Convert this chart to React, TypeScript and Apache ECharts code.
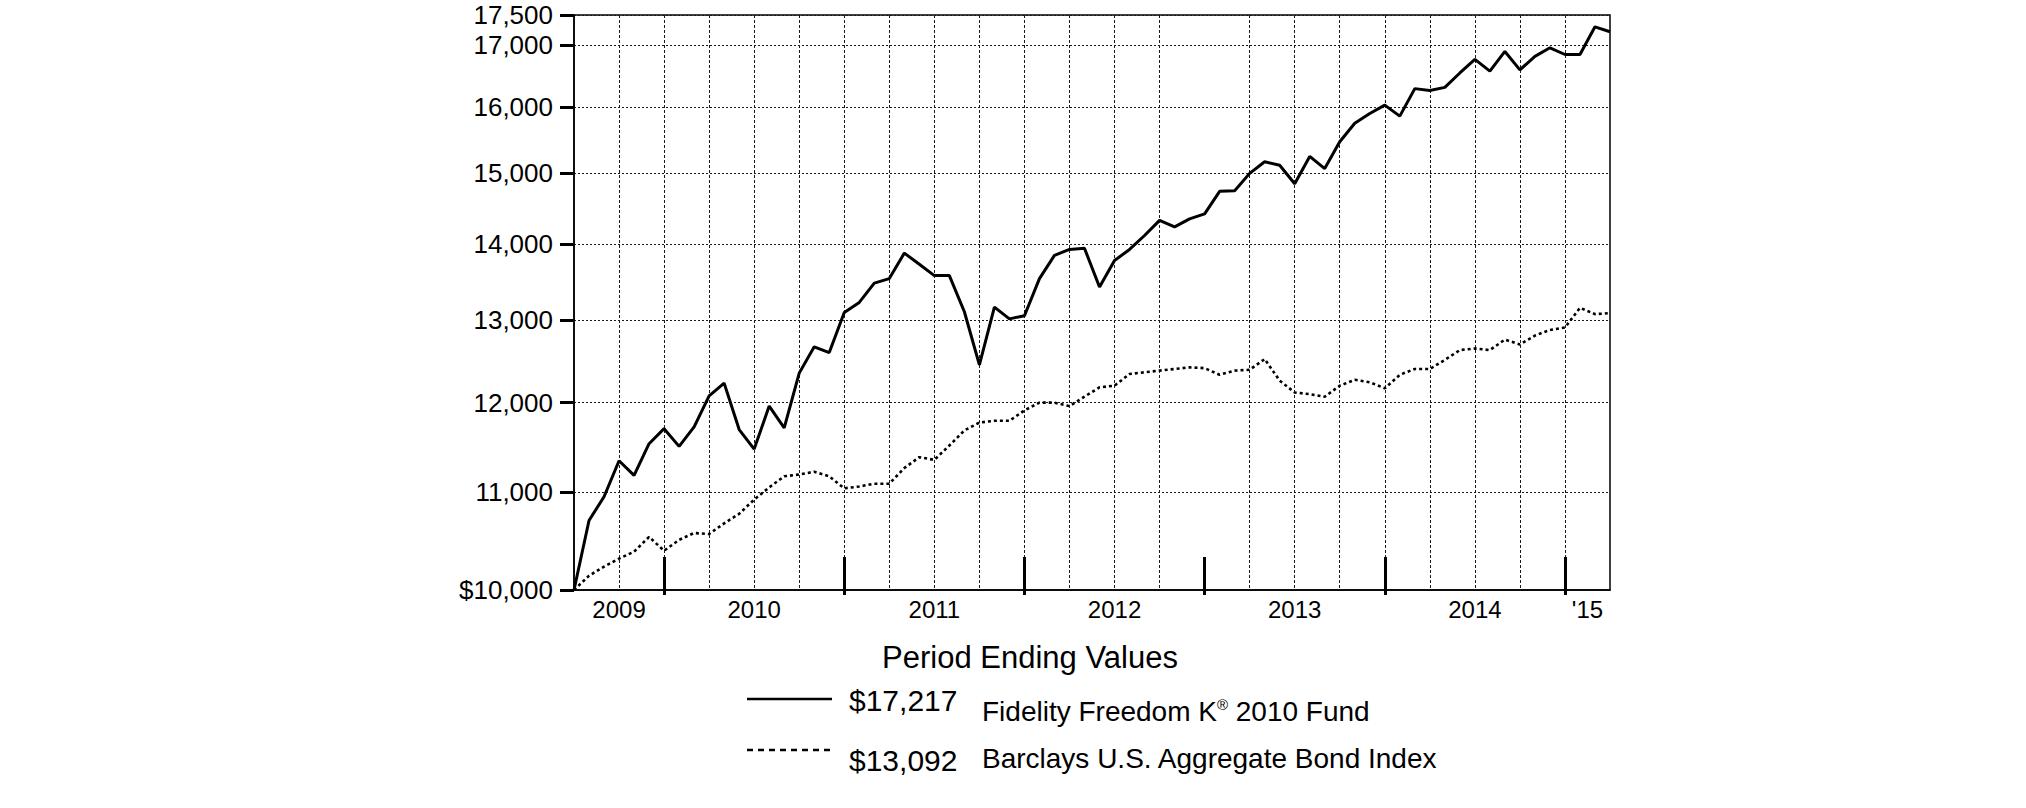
import React, { useEffect, useRef } from 'react';
import * as echarts from 'echarts';

// ---- Data ----
const monthNames = ['Jan', 'Feb', 'Mar', 'Apr', 'May', 'Jun', 'Jul', 'Aug', 'Sep', 'Oct', 'Nov', 'Dec'];
// Monthly period ends, Jun 2009 .. Mar 2015
const months: string[] = [];
for (let k = 0; k < 70; k++) {
  const mm = (5 + k) % 12;
  const yy = 2009 + Math.floor((5 + k) / 12);
  months.push(`${monthNames[mm]} ${yy}`);
}

const fundValues = [
  10000, 10700, 10950, 11340, 11180, 11530, 11700, 11500, 11720, 12080,
  12230, 11690, 11470, 11960, 11710, 12350, 12670, 12600, 13100, 13230,
  13480, 13540, 13880, 13730, 13580, 13580, 13110, 12450, 13170, 13020,
  13060, 13540, 13850, 13930, 13945, 13430, 13780, 13930, 14120, 14330,
  14240, 14350, 14420, 14740, 14750, 15000, 15170, 15120, 14850, 15250,
  15070, 15470, 15750, 15900, 16030, 15860, 16290, 16260, 16310, 16540,
  16760, 16570, 16890, 16590, 16810, 16950, 16840, 16840, 17300, 17217,
];

const bondValues = [
  10000, 10140, 10230, 10310, 10380, 10530, 10390, 10500, 10570, 10560,
  10670, 10770, 10920, 11050, 11170, 11190, 11220, 11170, 11040, 11060,
  11090, 11090, 11260, 11380, 11350, 11510, 11680, 11770, 11790, 11790,
  11910, 12000, 12000, 11960, 12070, 12180, 12200, 12340, 12360, 12380,
  12400, 12420, 12410, 12330, 12380, 12390, 12520, 12260, 12120, 12100,
  12070, 12200, 12270, 12240, 12170, 12330, 12400, 12400, 12510, 12630,
  12650, 12630, 12760, 12700, 12810, 12880, 12910, 13160, 13080, 13092,
];

const yTickValues = [10000, 11000, 12000, 13000, 14000, 15000, 16000, 17000, 17500];
const yearLabels = ['2009', '2010', '2011', '2012', '2013', '2014', "'15"];
const legendNames = ['Fidelity Freedom K{s|®} 2010 Fund', 'Barclays U.S. Aggregate Bond Index'];
const legendValues = ['$17,217', '$13,092'];
const chartTitle = 'Period Ending Values';

// ---- Derived axis helpers ----
const decIdx = months.map((m, i) => (m.startsWith('Dec') ? i : -1)).filter((i) => i >= 0);
const lastIdx = months.length - 1;
const yearPos = yearLabels.map((_, k) => {
  const start = k === 0 ? 0 : decIdx[k - 1];
  const end = k < decIdx.length ? decIdx[k] : lastIdx;
  return (start + end) / 2;
});
const quarterIdx = months
  .map((m, i) => (/^(Mar|Jun|Sep|Dec)/.test(m) ? i : -1))
  .filter((i) => i > 0 && i < lastIdx && months[i] !== 'Dec 2012');

const FONT = 'Liberation Sans, Arial, Helvetica, sans-serif';

export default function App() {
  const ref = useRef<HTMLDivElement>(null);
  useEffect(() => {
    if (!ref.current) return;
    const chart = echarts.init(ref.current, null, { renderer: 'svg' });
    const option: any = {
      animation: false,
      backgroundColor: '#ffffff',
      textStyle: { fontFamily: FONT, color: '#000' },
      grid: {
        left: 574, right: 416, top: 15, bottom: 218,
        show: true, borderColor: '#000', borderWidth: 1.5, backgroundColor: 'transparent',
      },
      xAxis: [
        {
          type: 'category', data: months, boundaryGap: false,
          axisLine: { show: true, lineStyle: { color: '#000', width: 1.5 } },
          axisTick: {
            show: true, inside: false, length: 5,
            interval: (i: number) => decIdx.includes(i),
            lineStyle: { color: '#000', width: 3 },
          },
          axisLabel: { show: false },
          splitLine: {
            show: true,
            interval: (i: number) => quarterIdx.includes(i),
            lineStyle: { color: '#1a1a1a', width: 1, type: [3, 2] },
          },
        },
        {
          type: 'value', min: 0, max: lastIdx, position: 'bottom',
          axisLine: { show: false },
          axisTick: {
            show: true, inside: true, length: 33, customValues: decIdx,
            lineStyle: { color: '#000', width: 3 },
          },
          axisLabel: {
            show: true, customValues: yearPos,
            formatter: (v: number) => {
              const k = yearPos.findIndex((p) => Math.abs(p - v) < 1e-6);
              return k >= 0 ? yearLabels[k] : '';
            },
            fontSize: 24, color: '#000', margin: 7, fontFamily: FONT,
          },
          splitLine: { show: false },
        },
      ],
      yAxis: {
        type: 'log', logBase: 10, min: 10000, max: 17500,
        axisLine: { show: true, lineStyle: { color: '#000', width: 1.5 } },
        axisTick: {
          show: true, length: 14, customValues: yTickValues,
          lineStyle: { color: '#000', width: 3 },
        },
        axisLabel: {
          show: true, customValues: yTickValues,
          formatter: (v: number) => {
            const r = Math.round(v);
            const s = r.toLocaleString('en-US');
            return r === 10000 ? '$' + s : s;
          },
          fontSize: 26, color: '#000', margin: 21, fontFamily: FONT,
        },
        splitLine: { show: true, lineStyle: { color: '#1a1a1a', width: 1, type: [2, 2] } },
      },
      series: [
        {
          type: 'line', name: 'Barclays U.S. Aggregate Bond Index', data: bondValues,
          xAxisIndex: 0, yAxisIndex: 0, symbol: 'none', smooth: false,
          lineStyle: { color: '#000', width: 2.6, type: [3, 3] }, z: 3,
        },
        {
          type: 'line', name: 'Fidelity Freedom K® 2010 Fund', data: fundValues,
          xAxisIndex: 0, yAxisIndex: 0, symbol: 'none', smooth: false,
          lineStyle: { color: '#000', width: 3 }, z: 4,
        },
      ],
      graphic: [
        {
          type: 'text',
          style: {
            text: chartTitle, x: 1030, y: 657, fontSize: 31, fontFamily: FONT,
            fill: '#000', align: 'center', verticalAlign: 'middle',
          },
        },
        { type: 'line', shape: { x1: 747, y1: 699, x2: 832, y2: 699 }, style: { stroke: '#000', lineWidth: 2.5 } },
        { type: 'line', shape: { x1: 747, y1: 750, x2: 830, y2: 750 }, style: { stroke: '#000', lineWidth: 2.5, lineDash: [6, 5] } },
        {
          type: 'text',
          style: { text: legendValues[0], x: 849, y: 700, fontSize: 30, fontFamily: FONT, fill: '#000', align: 'left', verticalAlign: 'middle' },
        },
        {
          type: 'text',
          style: { text: legendValues[1], x: 849, y: 760, fontSize: 30, fontFamily: FONT, fill: '#000', align: 'left', verticalAlign: 'middle' },
        },
        {
          type: 'text',
          style: {
            text: legendNames[0], x: 982, y: 711, fontSize: 28, fontFamily: FONT, fill: '#000',
            align: 'left', verticalAlign: 'middle',
            rich: { s: { fontSize: 15, fontFamily: FONT, fill: '#000', verticalAlign: 'top', padding: [0, 0, 10, 0] } },
          },
        },
        {
          type: 'text',
          style: { text: legendNames[1], x: 982, y: 758, fontSize: 28, fontFamily: FONT, fill: '#000', align: 'left', verticalAlign: 'middle' },
        },
      ],
    };
    chart.setOption(option);
    return () => chart.dispose();
  }, []);
  return <div ref={ref} style={{ position: 'absolute', left: 0, top: 0, width: 2026, height: 808 }} />;
}
